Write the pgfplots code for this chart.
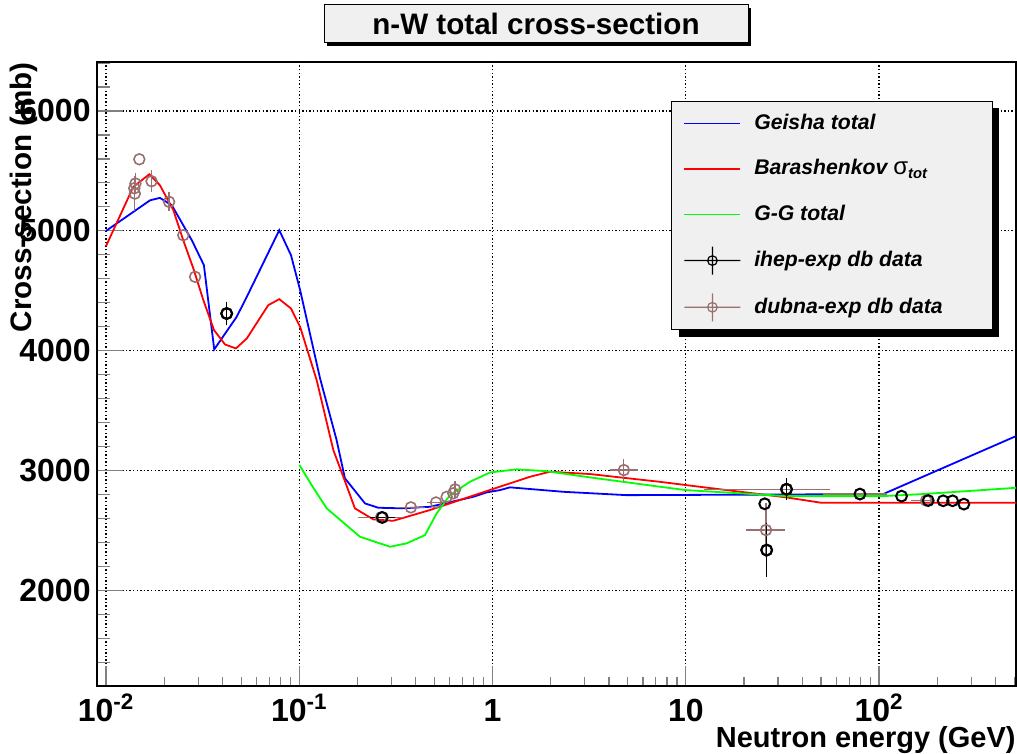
\documentclass[border=0pt]{standalone}
\usepackage{fontspec}
\setmainfont{Liberation Sans}
\usepackage{pgfplots}
\pgfplotsset{compat=1.18}
\usetikzlibrary{shadows}
\definecolor{boxgray}{RGB}{240,240,240}
\definecolor{dubna}{RGB}{153,112,112}
\definecolor{cblue}{RGB}{0,0,255}
\definecolor{cred}{RGB}{255,0,0}
\definecolor{cgreen}{RGB}{0,255,0}
\newcommand{\lfont}{\fontsize{14.8}{17}\selectfont\bfseries}
\newcommand{\tfont}{\fontsize{16}{19}\selectfont\bfseries}
\newcommand{\bbox}{\pgfpathrectangle{\pgfpoint{0pt}{-7pt}}{\pgfpoint{28pt}{14pt}}\pgfusepath{discard}}
\newcommand{\limg}[1]{\pgfsetstrokecolor{#1}\pgfsetlinewidth{0.9pt}\pgfpathmoveto{\pgfpoint{0pt}{0pt}}\pgfpathlineto{\pgfpoint{28pt}{0pt}}\pgfusepath{stroke}\bbox}
\newcommand{\dimg}[1]{\pgfsetstrokecolor{#1}\pgfsetlinewidth{0.6pt}\pgfpathmoveto{\pgfpoint{0pt}{0pt}}\pgfpathlineto{\pgfpoint{28pt}{0pt}}\pgfpathmoveto{\pgfpoint{14pt}{-7pt}}\pgfpathlineto{\pgfpoint{14pt}{7pt}}\pgfpathcircle{\pgfpoint{14pt}{0pt}}{2.4pt}\pgfusepath{stroke}\bbox}
\begin{document}
\begin{tikzpicture}
\begin{axis}[
  width=459.5pt, height=312pt, scale only axis,
  xmode=log, xmin=0.00898, xmax=511, ymin=1206, ymax=6408,
  axis line style={line width=1pt},
  tick pos=left, tick align=inside,
  xtick={0.01,0.1,1,10,100},
  xticklabels={10\textsuperscript{-2},10\textsuperscript{-1},1,10,10\textsuperscript{2}},
  minor xtick={0.02,0.03,0.04,0.05,0.06,0.07,0.08,0.09,0.2,0.3,0.4,0.5,0.6,0.7,0.8,0.9,2,3,4,5,6,7,8,9,20,30,40,50,60,70,80,90,200,300,400,500},
  ytick={2000,3000,4000,5000,6000},
  yticklabels={2000,3000,4000,5000,6000},
  minor ytick={1400,1600,1800,2200,2400,2600,2800,3200,3400,3600,3800,4200,4400,4600,4800,5200,5400,5600,5800,6200,6400},
  major x tick style={line width=0.6pt,/pgfplots/major tick length=10pt},
  minor x tick style={line width=0.6pt,/pgfplots/minor tick length=4.7pt},
  major y tick style={line width=0.6pt,/pgfplots/major tick length=13pt},
  minor y tick style={line width=0.6pt,/pgfplots/minor tick length=6.5pt},
  xmajorgrids, ymajorgrids,
  major grid style={black, line width=0.6pt, dash pattern=on 0.7pt off 1.1pt},
  xticklabel style={font=\tfont, anchor=base, yshift=-18pt, inner sep=0pt},
  yticklabel style={font=\tfont, anchor=east, xshift=-3pt, inner sep=0pt},
  xlabel={Neutron energy (GeV)},
  xlabel style={at={(axis description cs:1,0)}, anchor=base east, yshift=-30.75pt, inner sep=0pt, font=\fontsize{14.5}{17}\selectfont\bfseries},
  ylabel={Cross-section (mb)},
  ylabel style={at={(axis description cs:-0.0794,1)}, anchor=east, inner sep=0pt, font=\lfont},
  title={n-W total cross-section},
  title style={at={(axis description cs:0.4777,1)}, anchor=center, yshift=13pt, draw=black, line width=0.5pt, fill=boxgray, minimum width=212pt, minimum height=19pt, inner sep=0pt, font=\lfont, drop shadow={shadow xshift=1.3pt, shadow yshift=-1.3pt, fill=black, opacity=1}},
  legend style={at={(axis description cs:0.6246,0.9375)}, anchor=north west, draw=black, line width=0.5pt, fill=boxgray,
    font=\fontsize{10.6}{12}\selectfont\bfseries\itshape, row sep=8.75pt, column sep=6.5pt, inner xsep=6pt, inner ysep=4pt,
    nodes={inner sep=0pt, text height=8pt, text depth=2pt},
    drop shadow={shadow xshift=3.5pt, shadow yshift=-3.5pt, fill=black, opacity=1}},
  legend cell align=left,
  error bars/error bar style={line width=0.6pt},
  error bars/error mark options={line width=0.6pt, mark size=1.7pt},
]
\coordinate (frameLL) at (rel axis cs:0,0);

\addplot[cblue, line width=0.9pt, legend image code/.code={\limg{cblue}}] coordinates {
(0.01,5000)(0.0169,5255)(0.019,5275)(0.0219,5214)(0.0278,4922)(0.0321,4714)(0.0363,4012)(0.0474,4283)(0.0535,4450)(0.0788,5006)(0.0906,4797)(0.101,4506)(0.128,3772)(0.156,3256)(0.1723,2937)(0.2188,2728)(0.2563,2692)(0.3386,2687)(0.4746,2700)(0.794,2783)(0.932,2820)(1.092,2839)(1.23,2862)(2.32,2825)(4.94,2797)(7.35,2798)(105,2806)(511,3289)};
\addlegendentry{\makebox[113pt][l]{Geisha total}}

\addplot[cred, line width=0.9pt, legend image code/.code={\limg{cred}}] coordinates {
(0.01,4873)(0.01384,5367)(0.01675,5472)(0.019,5381)(0.0223,5173)(0.0251,4922)(0.0283,4687)(0.0319,4422)(0.0362,4173)(0.0413,4053)(0.047,4020)(0.0535,4103)(0.0691,4381)(0.0788,4431)(0.0906,4353)(0.101,4200)(0.123,3756)(0.150,3173)(0.169,2950)(0.194,2687)(0.2415,2595)(0.306,2583)(0.4746,2673)(0.861,2812)(1.23,2895)(1.56,2950)(1.98,2992)(3.19,2973)(7.35,2908)(10,2881)(33.2,2778)(50.4,2733)(511,2733)};
\addlegendentry{\makebox[113pt][l]{Barashenkov {\upshape\mdseries\fontsize{12}{12}\selectfont σ}\textsubscript{tot}}}

\addplot[cgreen, line width=0.9pt, legend image code/.code={\limg{cgreen}}] coordinates {
(0.1,3050)(0.117,2870)(0.1386,2687)(0.206,2450)(0.2947,2367)(0.359,2395)(0.447,2464)(0.514,2645)(0.602,2797)(0.763,2908)(0.97,2986)(1.33,3012)(1.9,2997)(3.19,2945)(7.35,2867)(10,2839)(33.2,2789)(105,2789)(169,2806)(511,2858)};
\addlegendentry{\makebox[113pt][l]{G-G total}}

% ihep with y errors
\addplot[black, only marks, mark=o, mark size=2.7pt, mark options={line width=1pt},
  legend image code/.code={\dimg{black}},
  error bars/.cd, y dir=both, y explicit] table[x=x, y=y, y error=ey] {
x y ey
0.0421 4311 70
26.2 2339 200
33.2 2846 63
};
\addlegendentry{\makebox[113pt][l]{ihep-exp db data}}

% dubna with y errors
\addplot[dubna, only marks, mark=o, mark size=2.7pt, mark options={line width=0.8pt},
  legend image code/.code={\dimg{dubna}},
  error bars/.cd, y dir=both, y explicit] table[x=x, y=y, y error=ey] {
x y ey
0.0142 5395 63
0.0140 5355 60
0.0141 5311 117
0.0172 5414 62
0.0212 5242 50
0.64 2845 40
};
\addlegendentry{\makebox[113pt][l]{dubna-exp db data}}

% dubna with x and y errors
\addplot[forget plot, dubna, only marks, mark=o, mark size=2.7pt, mark options={line width=0.8pt},
  error bars/.cd, y dir=both, y explicit, x dir=both, x explicit] table[x=x, y=y, y error=ey, x error plus=xp, x error minus=xm] {
x y ey xm xp
4.78 3006 61 0.57 0.67
26.0 2506 200 4.7 5.3
};
% dubna with x errors
\addplot[forget plot, dubna, only marks, mark=o, mark size=2.7pt, mark options={line width=0.8pt},
  error bars/.cd, x dir=both, x explicit] table[x=x, y=y, x error plus=xp, x error minus=xm] {
x y xm xp
0.265 2612 0.055 0.067
0.378 2695 0.046 0.051
0.51 2736 0.035 0.04
33.0 2846 20 20.5
79.5 2806 26 25.5
175 2752 22 10
};
% dubna without errors
\addplot[forget plot, dubna, only marks, mark=o, mark size=2.7pt, mark options={line width=0.8pt}] table[x=x, y=y] {
x y
0.01487 5597
0.0251 4964
0.0289 4617
0.579 2783
0.626 2812
};

% ihep on top
\addplot[forget plot, black, only marks, mark=o, mark size=2.7pt, mark options={line width=1pt},
  error bars/.cd, y dir=both, y explicit] table[x=x, y=y, y error=ey] {
x y ey
0.0421 4311 70
26.2 2339 200
33.2 2846 63
};
\addplot[forget plot, black, only marks, mark=o, mark size=2.7pt, mark options={line width=1pt},
  error bars/.cd, x dir=both, x explicit] table[x=x, y=y, x error plus=xp, x error minus=xm] {
x y xm xp
0.269 2611 0.0275 0.0316
};
\addplot[forget plot, black, only marks, mark=o, mark size=2.7pt, mark options={line width=1pt}] table[x=x, y=y] {
x y
25.6 2725
79.6 2806
130.7 2789
179.6 2752
214.6 2750
240 2750
274.6 2722
};
\end{axis}
\pgfresetboundingbox
\path (frameLL) ++(-48.5pt,-34pt) rectangle ++(508.5pt,377pt);
\end{tikzpicture}
\end{document}
